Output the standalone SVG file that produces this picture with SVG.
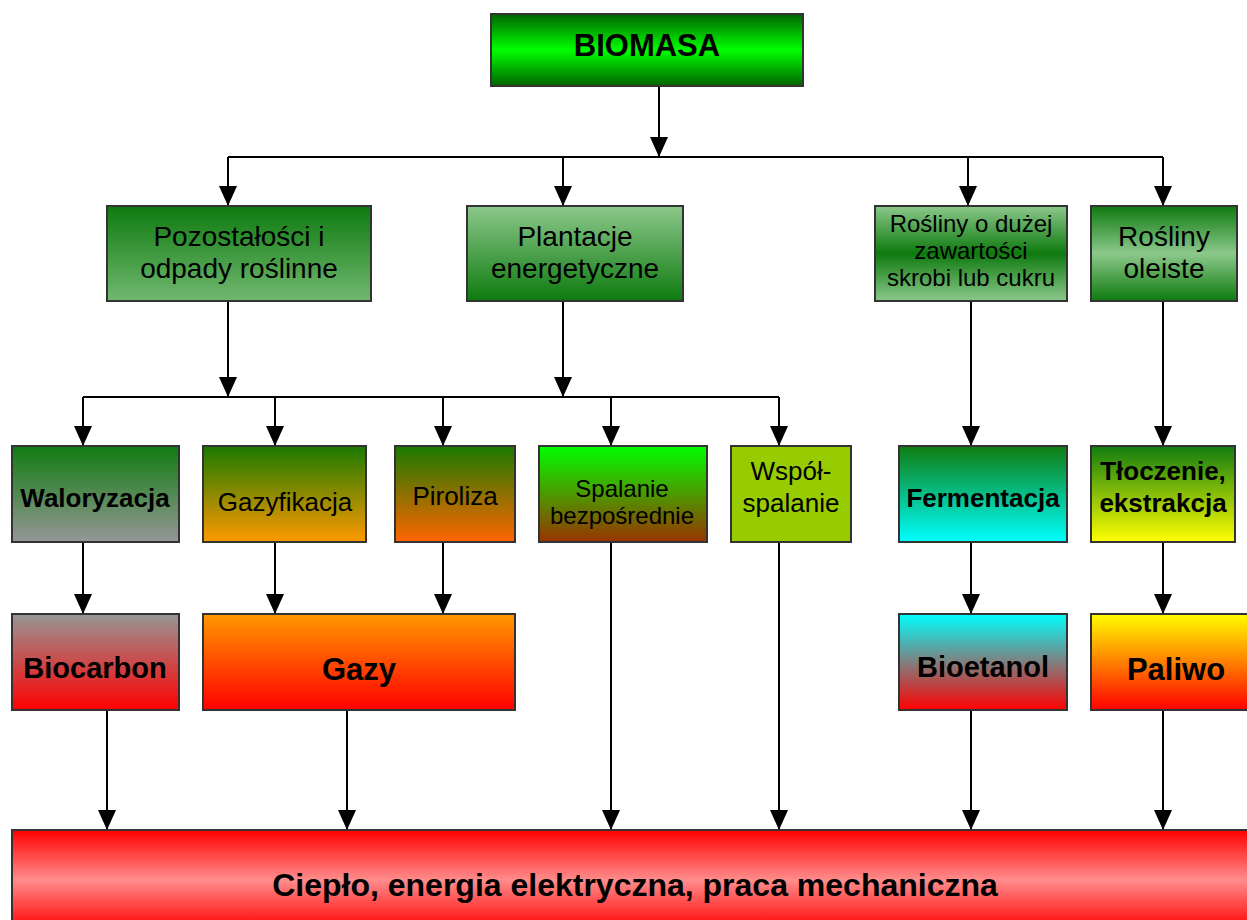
<svg xmlns="http://www.w3.org/2000/svg" width="1247" height="920" viewBox="0 0 1247 920">
<defs>
<style>
.box{stroke:#333;stroke-width:2}
text{font-family:"Liberation Sans",Arial,sans-serif;text-anchor:middle;fill:#000}
.b{font-weight:bold}
.ln{fill:none;stroke:#000;stroke-width:2}
.ar{fill:none;stroke:#000;stroke-width:2;marker-end:url(#ah)}
</style>
<marker id="ah" markerUnits="userSpaceOnUse" markerWidth="20" markerHeight="20" viewBox="0 0 20 20" refX="20" refY="10" orient="auto"><path d="M0,1 L20,10 L0,19 z" fill="#000"/></marker>
<linearGradient id="gBio" x1="0" y1="0" x2="0" y2="1"><stop offset="0" stop-color="#006400"/><stop offset="0.5" stop-color="#00ff00"/><stop offset="1" stop-color="#006400"/></linearGradient>
<linearGradient id="gDL" x1="0" y1="0" x2="0" y2="1"><stop offset="0" stop-color="#0e7a0e"/><stop offset="1" stop-color="#70b870"/></linearGradient>
<linearGradient id="gLD" x1="0" y1="0" x2="0" y2="1"><stop offset="0" stop-color="#8cc88c"/><stop offset="1" stop-color="#0e7a0e"/></linearGradient>
<linearGradient id="gLDL" x1="0" y1="0" x2="0" y2="1"><stop offset="0" stop-color="#8cc88c"/><stop offset="0.5" stop-color="#0e7a0e"/><stop offset="1" stop-color="#8cc88c"/></linearGradient>
<linearGradient id="gDLD" x1="0" y1="0" x2="0" y2="1"><stop offset="0" stop-color="#0e7a0e"/><stop offset="0.5" stop-color="#8cc88c"/><stop offset="1" stop-color="#0e7a0e"/></linearGradient>
<linearGradient id="gWal" x1="0" y1="0" x2="0" y2="1"><stop offset="0" stop-color="#107c10"/><stop offset="1" stop-color="#969696"/></linearGradient>
<linearGradient id="gGaz" x1="0" y1="0" x2="0" y2="1"><stop offset="0" stop-color="#1a7a00"/><stop offset="1" stop-color="#ff9900"/></linearGradient>
<linearGradient id="gPir" x1="0" y1="0" x2="0" y2="1"><stop offset="0" stop-color="#1a7a00"/><stop offset="1" stop-color="#ff6600"/></linearGradient>
<linearGradient id="gSpa" x1="0" y1="0" x2="0" y2="1"><stop offset="0" stop-color="#00ff00"/><stop offset="1" stop-color="#993300"/></linearGradient>
<linearGradient id="gFer" x1="0" y1="0" x2="0" y2="1"><stop offset="0" stop-color="#107c10"/><stop offset="1" stop-color="#00ffff"/></linearGradient>
<linearGradient id="gTlo" x1="0" y1="0" x2="0" y2="1"><stop offset="0" stop-color="#107c10"/><stop offset="1" stop-color="#ffff00"/></linearGradient>
<linearGradient id="gBc" x1="0" y1="0" x2="0" y2="1"><stop offset="0" stop-color="#969696"/><stop offset="1" stop-color="#ff0000"/></linearGradient>
<linearGradient id="gGazy" x1="0" y1="0" x2="0" y2="1"><stop offset="0" stop-color="#ff9900"/><stop offset="1" stop-color="#ff0000"/></linearGradient>
<linearGradient id="gBe" x1="0" y1="0" x2="0" y2="1"><stop offset="0" stop-color="#00ffff"/><stop offset="1" stop-color="#ff0000"/></linearGradient>
<linearGradient id="gPal" x1="0" y1="0" x2="0" y2="1"><stop offset="0" stop-color="#ffff00"/><stop offset="1" stop-color="#ff0000"/></linearGradient>
<linearGradient id="gOut" x1="0" y1="0" x2="0" y2="1"><stop offset="0" stop-color="#ff0000"/><stop offset="0.5" stop-color="#ff8c8c"/><stop offset="1" stop-color="#ff0000"/></linearGradient>
</defs>

<g id="connectors">
<path class="ar" d="M659,86 V157"/>
<path class="ln" d="M228,157 H1163"/>
<path class="ar" d="M228,157 V206"/>
<path class="ar" d="M563,157 V206"/>
<path class="ar" d="M968,157 V206"/>
<path class="ar" d="M1163,157 V206"/>
<path class="ar" d="M228,301 V397"/>
<path class="ar" d="M563,301 V397"/>
<path class="ln" d="M83,397 H779"/>
<path class="ar" d="M83,397 V446"/>
<path class="ar" d="M275,397 V446"/>
<path class="ar" d="M443,397 V446"/>
<path class="ar" d="M611,397 V446"/>
<path class="ar" d="M779,397 V446"/>
<path class="ar" d="M971,301 V446"/>
<path class="ar" d="M1163,301 V446"/>
<path class="ar" d="M83,542 V614"/>
<path class="ar" d="M275,542 V614"/>
<path class="ar" d="M443,542 V614"/>
<path class="ar" d="M971,542 V614"/>
<path class="ar" d="M1163,542 V614"/>
<path class="ar" d="M107,710 V830"/>
<path class="ar" d="M347,710 V830"/>
<path class="ar" d="M611,542 V830"/>
<path class="ar" d="M779,542 V830"/>
<path class="ar" d="M971,710 V830"/>
<path class="ar" d="M1163,710 V830"/>
</g>

<g id="biomasa"><rect class="box" x="491" y="14" width="312" height="72" fill="url(#gBio)"/><text class="b" x="647" y="56" font-size="31">BIOMASA</text></g>

<g id="pozostalosci"><rect class="box" x="107" y="206" width="264" height="95" fill="url(#gDL)"/><text x="239" y="246" font-size="28">Pozostałości i</text><text x="239" y="278" font-size="28">odpady roślinne</text></g>
<g id="plantacje"><rect class="box" x="467" y="206" width="216" height="95" fill="url(#gLD)"/><text x="575" y="246" font-size="28">Plantacje</text><text x="575" y="278" font-size="28">energetyczne</text></g>
<g id="skrobia"><rect class="box" x="875" y="206" width="192" height="95" fill="url(#gLDL)"/><text x="971" y="232" font-size="24">Rośliny o dużej</text><text x="971" y="259" font-size="24">zawartości</text><text x="971" y="286" font-size="24">skrobi lub cukru</text></g>
<g id="oleiste"><rect class="box" x="1091" y="206" width="146" height="95" fill="url(#gDLD)"/><text x="1164" y="246" font-size="28">Rośliny</text><text x="1164" y="278" font-size="28">oleiste</text></g>

<g id="waloryzacja"><rect class="box" x="12" y="446" width="167" height="96" fill="url(#gWal)"/><text class="b" x="95" y="507" font-size="26">Waloryzacja</text></g>
<g id="gazyfikacja"><rect class="box" x="203" y="446" width="163" height="96" fill="url(#gGaz)"/><text x="285" y="511" font-size="26">Gazyfikacja</text></g>
<g id="piroliza"><rect class="box" x="395" y="446" width="120" height="96" fill="url(#gPir)"/><text x="455" y="505" font-size="26">Piroliza</text></g>
<g id="spalanie"><rect class="box" x="539" y="446" width="168" height="96" fill="url(#gSpa)"/><text x="622" y="497" font-size="24">Spalanie</text><text x="622" y="524" font-size="24">bezpośrednie</text></g>
<g id="wspolspalanie"><rect class="box" x="731" y="446" width="120" height="96" fill="#99cc00"/><text x="791" y="480" font-size="26">Współ-</text><text x="791" y="512" font-size="26">spalanie</text></g>
<g id="fermentacja"><rect class="box" x="899" y="446" width="168" height="96" fill="url(#gFer)"/><text class="b" x="983" y="507" font-size="26">Fermentacja</text></g>
<g id="tloczenie"><rect class="box" x="1091" y="446" width="144" height="96" fill="url(#gTlo)"/><text class="b" x="1163" y="480" font-size="26">Tłoczenie,</text><text class="b" x="1163" y="512" font-size="26">ekstrakcja</text></g>

<g id="biocarbon"><rect class="box" x="12" y="614" width="167" height="96" fill="url(#gBc)"/><text class="b" x="95" y="678" font-size="29">Biocarbon</text></g>
<g id="gazy"><rect class="box" x="203" y="614" width="312" height="96" fill="url(#gGazy)"/><text class="b" x="359" y="680" font-size="31">Gazy</text></g>
<g id="bioetanol"><rect class="box" x="899" y="614" width="168" height="96" fill="url(#gBe)"/><text class="b" x="983" y="677" font-size="29">Bioetanol</text></g>
<g id="paliwo"><rect class="box" x="1091" y="614" width="170" height="96" fill="url(#gPal)"/><text class="b" x="1176" y="680" font-size="31">Paliwo</text></g>

<g id="wynik"><rect class="box" x="12" y="830" width="1250" height="100" fill="url(#gOut)"/><text class="b" x="635" y="896" font-size="32">Ciepło, energia elektryczna, praca mechaniczna</text></g>
</svg>
